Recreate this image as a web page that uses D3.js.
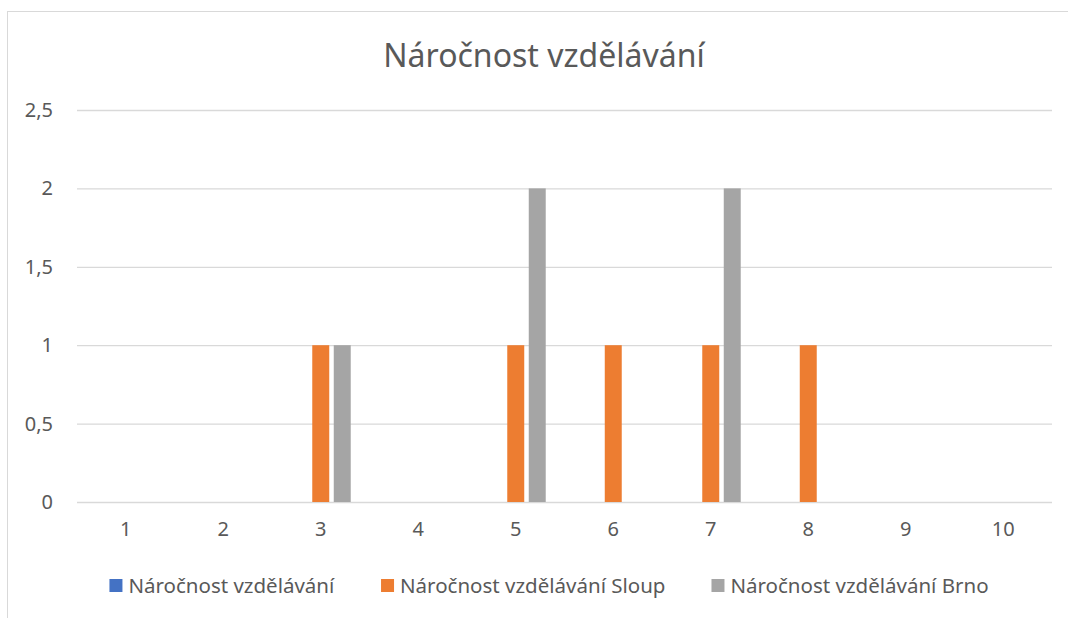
<!DOCTYPE html>
<html>
<head>
<meta charset="utf-8">
<script src="https://cdn.jsdelivr.net/npm/d3@7"></script>
<style>
  body { margin: 0; background: #fff; }
  text { font-family: "Noto Sans", "Open Sans", sans-serif; fill: #595959; }
</style>
</head>
<body>
<div id="chart"></div>
<script>
// Data
const categories = ['1', '2', '3', '4', '5', '6', '7', '8', '9', '10']
const seriesNames = ['Náročnost vzdělávání', 'Náročnost vzdělávání Sloup', 'Náročnost vzdělávání Brno']
const seriesColors = ['#4472C4', '#ED7D31', '#A5A5A5']
const valuesAll = [0, 0, 0, 0, 0, 0, 0, 0, 0, 0]
const valuesSloup = [0, 0, 1, 0, 1, 1, 1, 1, 0, 0]
const valuesBrno = [0, 0, 1, 0, 2, 0, 2, 0, 0, 0]
const yTicks = [0, 0.5, 1, 1.5, 2, 2.5]

const seriesValues = [valuesAll, valuesSloup, valuesBrno]
const rows = []
seriesValues.forEach((vals, s) => {
  vals.forEach((v, i) => rows.push({ cat: categories[i], series: seriesNames[s], color: seriesColors[s], value: v }))
})

// Dimensions
let dimensions = {
  width: 1068,
  height: 618,
  margin: { top: 110, bottom: 116, left: 77, right: 16 }
}

const svg = d3.select('#chart')
  .append('svg')
  .attr('width', dimensions.width)
  .attr('height', dimensions.height)

// chart frame (runs off the right/bottom edges like the reference)
svg.append('rect')
  .attr('x', 7.5)
  .attr('y', 11.5)
  .attr('width', 1100)
  .attr('height', 700)
  .attr('fill', 'none')
  .attr('stroke', '#D9D9D9')
  .attr('stroke-width', 1)

const containerWidth = dimensions.width - dimensions.margin.left - dimensions.margin.right
const containerHeight = dimensions.height - dimensions.margin.top - dimensions.margin.bottom

const container = svg.append('g')
  .attr('transform', `translate(${dimensions.margin.left},${dimensions.margin.top})`)

// Scales
const xScale = d3.scaleBand()
  .domain(categories)
  .range([0, containerWidth])
  .paddingInner(0.385)
  .paddingOuter(0.1925)

const xInner = d3.scaleBand()
  .domain(seriesNames)
  .range([0, xScale.bandwidth()])
  .paddingInner(0.21)
  .paddingOuter(0)

const yScale = d3.scaleLinear()
  .domain([0, 2.5])
  .range([containerHeight, 0])

const fmt = d => String(d).replace('.', ',')

// Gridlines + y labels
const yAxis = d3.axisLeft(yScale)
  .tickValues(yTicks)
  .tickSize(-containerWidth)
  .tickPadding(24)
  .tickFormat(fmt)

const yAxisGroup = container.append('g').call(yAxis)
yAxisGroup.select('.domain').remove()
yAxisGroup.selectAll('line').attr('stroke', '#D9D9D9').attr('stroke-width', 1.3)
yAxisGroup.selectAll('text')
  .attr('font-size', '20px')
  .attr('fill', '#595959')
  .style('font-family', '"Noto Sans", sans-serif')

// x labels
const xAxis = d3.axisBottom(xScale).tickSize(0).tickPadding(20)
const xAxisGroup = container.append('g')
  .attr('transform', `translate(0, ${containerHeight})`)
  .call(xAxis)
xAxisGroup.select('.domain').remove()
xAxisGroup.selectAll('text')
  .attr('font-size', '20px')
  .attr('fill', '#595959')
  .style('font-family', '"Noto Sans", sans-serif')

// Bars
container.selectAll('rect.bar')
  .data(rows.filter(d => d.value > 0))
  .join('rect')
  .attr('class', 'bar')
  .attr('x', d => xScale(d.cat) + xInner(d.series))
  .attr('width', xInner.bandwidth())
  .attr('y', d => yScale(d.value))
  .attr('height', d => containerHeight - yScale(d.value))
  .attr('fill', d => d.color)

// Title
svg.append('text')
  .attr('x', 544)
  .attr('y', 67)
  .attr('font-size', '32px')
  .attr('text-anchor', 'middle')
  .text('Náročnost vzdělávání')

// Legend
const legend = svg.append('g').attr('transform', 'translate(0, 586)')
const items = legend.selectAll('g')
  .data(seriesNames)
  .join('g')
items.append('rect')
  .attr('width', 13)
  .attr('height', 13)
  .attr('y', -7)
  .attr('fill', (d, i) => seriesColors[i])
items.append('text')
  .attr('x', 19)
  .attr('y', 7)
  .attr('font-size', '20.5px')
  .text(d => d)

const gap = 46
let widths = []
items.each(function () { widths.push(this.getBBox().width) })
const total = d3.sum(widths) + gap * (widths.length - 1)
let cursor = 549 - total / 2
items.attr('transform', (d, i) => {
  const x = cursor
  cursor += widths[i] + gap
  return `translate(${x},0)`
})
</script>
</body>
</html>
